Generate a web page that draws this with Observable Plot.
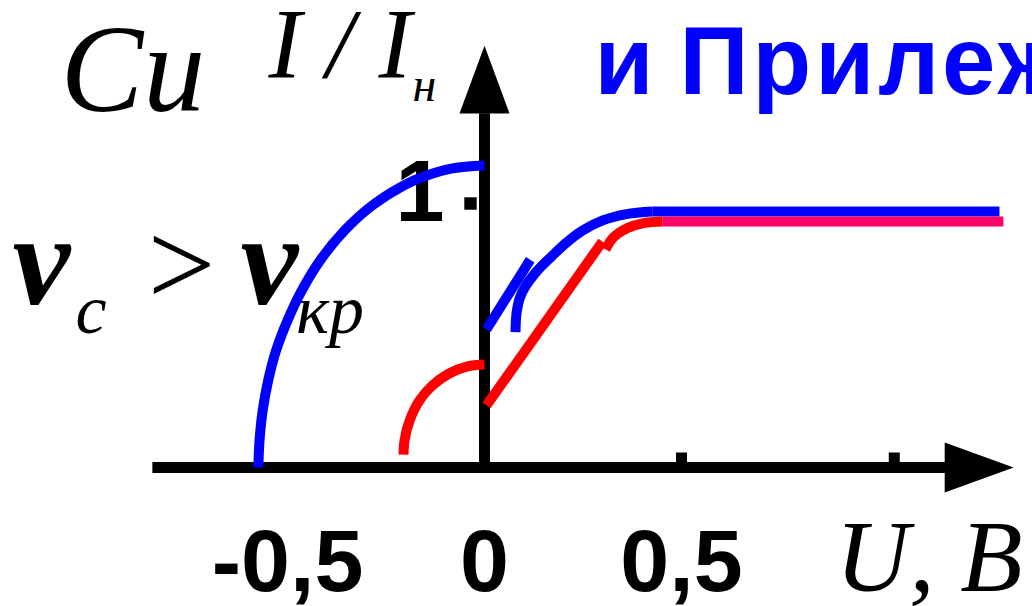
<!DOCTYPE html>
<html>
<head>
<meta charset="utf-8">
<script src="https://cdn.jsdelivr.net/npm/d3@7"></script>
<script src="https://cdn.jsdelivr.net/npm/@observablehq/plot@0.6"></script>
<style>
  html, body { margin: 0; padding: 0; background: #fff; overflow: hidden; }
</style>
</head>
<body>
<div id="chart"></div>
<script>
// Photocurrent I/Iн versus voltage U (V) for a copper cathode, ν_c > ν_кр.
// Each curve is a list of [U, I/Iн] points.
const blueReverse = [[-0.574, 0], [-0.571, 0.102], [-0.563, 0.216], [-0.549, 0.330], [-0.529, 0.443],
  [-0.500, 0.557], [-0.464, 0.670], [-0.4175, 0.784], [-0.355, 0.898], [-0.2855, 0.992],
  [-0.2056, 1.068], [-0.147, 1.106], [-0.081, 1.133], [0, 1.144]];
const redReverse = [[-0.2056, 0.049], [-0.203, 0.102], [-0.190, 0.178], [-0.165, 0.254],
  [-0.132, 0.311], [-0.0896, 0.356], [-0.043, 0.383], [0, 0.390]];
const blueStub = [[0.005, 0.523], [0.116, 0.787]];
const blueRise = [[0.0787, 0.5125], [0.0815, 0.587], [0.090, 0.644], [0.105, 0.689], [0.132, 0.742],
  [0.170, 0.799], [0.208, 0.852], [0.249, 0.898], [0.300, 0.936], [0.3600, 0.960], [0.4256, 0.970]];
const bluePlateau = [[0.4256, 0.970], [1.307, 0.970]];
const redRamp = [[0.005, 0.235], [0.2995, 0.856]];
const redKnee = [[0.307, 0.826], [0.327, 0.871], [0.363, 0.907], [0.4036, 0.926], [0.4518, 0.932]];
const redPlateau = [[0.4518, 0.932], [1.317, 0.932]];

// Axes with arrowheads, in the same units
const xAxisLine = [[-0.843, 0], [1.17, 0]];
const xArrow = [[1.168, 0.095], [1.343, 0], [1.168, -0.095]];
const yAxisLine = [[0, 0], [0, 1.342]];
const yArrow = [[-0.0635, 1.341], [0, 1.598], [0.0635, 1.341]];

const xTickValues = [-0.5, 0, 0.5];
const xTickLabels = ["-0,5", "0", "0,5"];
const xTickMarks = [0.5, 1.04];
const yTickValues = [1];
const yTickLabels = ["1"];

const SERIF = "'Liberation Serif', 'Times New Roman', serif";
const SANS = "'Liberation Sans', Arial, sans-serif";
const BLUE = "#0000ff", RED = "#ff0000", PINK = "#ff0066";

const px = {x: d => d[0], y: d => d[1]};
const stroke = (data, color, curve = "linear", width = 10) =>
  Plot.line(data, {...px, stroke: color, strokeWidth: width, curve, strokeLinecap: "butt", strokeLinejoin: "miter"});
const label = (str, x, y, style) =>
  Plot.text([str], {x, y, text: d => d, textAnchor: "start", lineAnchor: "bottom", fill: "black", ...style});
const italic = (size, weight = "normal") => ({fontFamily: SERIF, fontStyle: "italic", fontWeight: weight, fontSize: size});

const chart = Plot.plot({
  width: 1032,
  height: 606,
  margin: 0,
  x: {domain: [0, 0.5], range: [484, 681], axis: null},
  y: {domain: [0, 1], range: [467, 203], axis: null},
  marks: [
    // annotations
    label("Cu", -1.076, 1.352, italic(124)),
    label("I / I", -0.548, 1.481, italic(99)),
    label("н", -0.183, 1.390, italic(48)),
    label("и", 0.279, 1.413, {fontFamily: SANS, fontWeight: "bold", fontSize: 96, fill: BLUE}),
    label("Прилеж", 0.495, 1.413, {fontFamily: SANS, fontWeight: "bold", fontSize: 96, fill: BLUE}),
    label("ν", -1.198, 0.621, italic(130, "bold")),
    label("c", -1.038, 0.5076, italic(70)),
    label(">", -0.855, 0.614, {fontFamily: SERIF, fontSize: 120}),
    label("ν", -0.619, 0.621, italic(130, "bold")),
    label("кр", -0.478, 0.5076, italic(70)),
    label("U, B", 0.891, -0.466, italic(102)),

    // axes
    stroke(xAxisLine, "black", "linear", 11),
    Plot.line(xArrow, {...px, fill: "black", stroke: "none"}),
    stroke(yAxisLine, "black", "linear", 11),
    Plot.line(yArrow, {...px, fill: "black", stroke: "none"}),
    Plot.ruleX(xTickMarks, {x: d => d, y1: 0, y2: 0.055, stroke: "black", strokeWidth: 11}),
    Plot.dot(yTickValues, {x: 0, y: d => d, dx: -14, symbol: "square", r: 7, fill: "black", stroke: "none"}),
    Plot.text(xTickValues, {x: d => d, y: 0, dy: 123, text: (d, i) => xTickLabels[i], lineAnchor: "bottom",
      textAnchor: "middle", fontFamily: SANS, fontWeight: "bold", fontSize: 88, fill: "black"}),
    Plot.text(yTickValues, {x: 0, y: d => d, dx: -89, dy: 17, text: (d, i) => yTickLabels[i], lineAnchor: "bottom",
      textAnchor: "start", fontFamily: SANS, fontWeight: "bold", fontSize: 88, fill: "black"}),

    // curves
    stroke(blueReverse, BLUE, "catmull-rom"),
    stroke(redReverse, RED, "catmull-rom"),
    stroke(blueStub, BLUE),
    stroke(blueRise, BLUE, "catmull-rom"),
    stroke(bluePlateau, BLUE),
    stroke(redRamp, RED),
    stroke(redKnee, RED, "catmull-rom"),
    stroke(redPlateau, PINK)
  ]
});

// the blue heading is set slightly wider than the font's default spacing
d3.select(chart).selectAll("text")
  .filter(function () { return this.textContent === "Прилеж"; })
  .attr("letter-spacing", 4);

document.getElementById("chart").appendChild(chart);
</script>
</body>
</html>
